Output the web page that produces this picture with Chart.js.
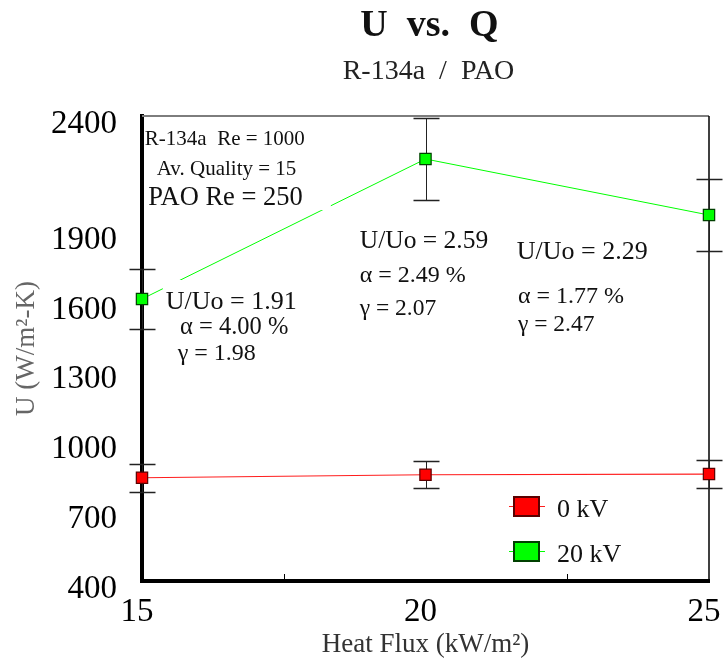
<!DOCTYPE html>
<html>
<head>
<meta charset="utf-8">
<script src="https://cdn.jsdelivr.net/npm/chart.js@4.4.1/dist/chart.umd.min.js"></script>
<style>
  html, body { margin: 0; padding: 0; background: #fff; }
</style>
</head>
<body>
<canvas id="uq" width="724" height="661"></canvas>
<script>
// heat flux (kW/m²) and overall U (W/m²-K) with error half-widths
const heatFlux = [15, 20, 25];
const u0kV = [844, 857, 860];
const u0kVErr = [60, 59, 60];
const u20kV = [1613, 2215, 1974];
const u20kVErr = [129, 176, 156];
const xTicks = [15, 20, 25];
const yTicks = [400, 700, 1000, 1300, 1600, 1900, 2400];
const seriesNames = ['0 kV', '20 kV'];

const serif = "'Liberation Serif', 'Times New Roman', serif";

// free text inside the plot, anchored in data units (left edge, vertical middle)
const notes = [
  { text: 'R-134a  Re = 1000', x: 15.05, y: 2297, size: 21 },
  { text: 'Av. Quality = 15', x: 15.26, y: 2168, size: 21 },
  { text: 'PAO Re = 250', x: 15.11, y: 2047, size: 26.5, box: [3, 28, 12, 12] },
  { text: 'U/Uo = 1.91', x: 15.42, y: 1600, size: 26, box: [3, 4, 22, 22] },
  { text: 'α = 4.00 %', x: 15.67, y: 1488, size: 24.5 },
  { text: 'γ = 1.98', x: 15.63, y: 1376, size: 24 },
  { text: 'U/Uo = 2.59', x: 18.84, y: 1862, size: 25.5 },
  { text: 'α = 2.49 %', x: 18.84, y: 1712, size: 24 },
  { text: 'γ = 2.07', x: 18.84, y: 1570, size: 23.5 },
  { text: 'U/Uo = 2.29', x: 21.61, y: 1815, size: 26 },
  { text: 'α = 1.77 %', x: 21.63, y: 1622, size: 24 },
  { text: 'γ = 2.47', x: 21.63, y: 1501, size: 23.5 }
];

const toPoints = (ys) => heatFlux.map((x, i) => ({ x: x, y: ys[i] }));

const extras = {
  id: 'extras',
  beforeDatasetsDraw(chart) {
    const { ctx, chartArea: a, scales: { x, y } } = chart;
    ctx.save();
    // top and right edges of the frame
    ctx.strokeStyle = '#7d7d7d';
    ctx.lineWidth = 2;
    ctx.beginPath();
    ctx.moveTo(a.left, a.top);
    ctx.lineTo(a.right, a.top);
    ctx.stroke();
    ctx.strokeStyle = '#000';
    ctx.lineWidth = 1.5;
    ctx.beginPath();
    ctx.moveTo(a.right, a.top);
    ctx.lineTo(a.right, a.bottom);
    ctx.stroke();
    // minor ticks on the x axis
    ctx.lineWidth = 1;
    [17.5, 22.5].forEach(v => {
      const px = Math.round(x.getPixelForValue(v)) + 0.5;
      ctx.beginPath();
      ctx.moveTo(px, a.bottom);
      ctx.lineTo(px, a.bottom - 7);
      ctx.stroke();
    });
    // error bars
    ctx.strokeStyle = '#222';
    chart.data.datasets.forEach(ds => {
      ds.data.forEach((p, i) => {
        const px = Math.round(x.getPixelForValue(p.x)) + 0.5;
        const hi = Math.round(y.getPixelForValue(p.y + ds.err[i])) + 0.5;
        const lo = Math.round(y.getPixelForValue(p.y - ds.err[i])) + 0.5;
        ctx.lineWidth = 1;
        ctx.beginPath();
        ctx.moveTo(px, hi);
        ctx.lineTo(px, lo);
        ctx.stroke();
        ctx.lineWidth = 1.5;
        ctx.beginPath();
        ctx.moveTo(px - 13, hi);
        ctx.lineTo(px + 13, hi);
        ctx.moveTo(px - 13, lo);
        ctx.lineTo(px + 13, lo);
        ctx.stroke();
      });
    });
    ctx.restore();
  },
  afterDatasetsDraw(chart) {
    const { ctx, chartArea: a, scales: { x, y } } = chart;
    ctx.save();
    ctx.textAlign = 'left';
    ctx.textBaseline = 'middle';
    notes.forEach(n => {
      const px = x.getPixelForValue(n.x);
      const py = y.getPixelForValue(n.y);
      ctx.font = n.size + 'px ' + serif;
      if (n.box) {
        const w = ctx.measureText(n.text).width;
        ctx.fillStyle = '#fff';
        ctx.fillRect(px - n.box[0], py - n.box[2], w + n.box[0] + n.box[1], n.box[2] + n.box[3]);
      }
      ctx.fillStyle = '#111';
      ctx.fillText(n.text, px, py);
    });

    // legend, lower right of the plot
    const lx = a.left + 367;
    chart.data.datasets.forEach((ds, i) => {
      const ly = a.top + 390 + i * 45;
      ctx.strokeStyle = ds.borderColor;
      ctx.lineWidth = 1;
      ctx.beginPath();
      ctx.moveTo(lx, ly + 0.5);
      ctx.lineTo(lx + 36, ly + 0.5);
      ctx.stroke();
      ctx.fillStyle = ds.pointBackgroundColor;
      ctx.fillRect(lx + 5, ly - 9, 25, 19);
      ctx.strokeStyle = ds.pointBorderColor;
      ctx.lineWidth = 2;
      ctx.strokeRect(lx + 5, ly - 9, 25, 19);
      ctx.fillStyle = '#111';
      ctx.font = '26px ' + serif;
      ctx.fillText(ds.label, lx + 48, ly + 4);
    });

    // titles above the plot
    const cx = (a.left + a.right) / 2 + 4;
    ctx.textAlign = 'center';
    ctx.fillStyle = '#111';
    ctx.font = 'bold 38px ' + serif;
    ctx.fillText('U  vs.  Q', cx, 26);
    ctx.fillStyle = '#222';
    ctx.font = '28px ' + serif;
    ctx.fillText('R-134a  /  PAO', cx - 1, 72);
    ctx.restore();
  }
};

new Chart(document.getElementById('uq'), {
  type: 'line',
  data: {
    datasets: [{
      label: seriesNames[0],
      data: toPoints(u0kV),
      err: u0kVErr,
      borderColor: 'rgb(255,30,30)',
      borderWidth: 1.2,
      pointStyle: 'rect',
      pointRadius: 8,
      pointBackgroundColor: '#ff0000',
      pointBorderColor: '#5a0000',
      pointBorderWidth: 1.2,
      tension: 0
    }, {
      label: seriesNames[1],
      data: toPoints(u20kV),
      err: u20kVErr,
      borderColor: '#00ff00',
      borderWidth: 1,
      pointStyle: 'rect',
      pointRadius: 8,
      pointBackgroundColor: '#00ff00',
      pointBorderColor: '#004000',
      pointBorderWidth: 1.2,
      tension: 0
    }]
  },
  options: {
    responsive: false,
    animation: false,
    devicePixelRatio: 1,
    clip: false,
    layout: { padding: { top: 116, right: 15, left: 0, bottom: 0 } },
    plugins: {
      legend: { display: false },
      title: { display: false },
      tooltip: { enabled: false }
    },
    scales: {
      x: {
        type: 'linear',
        min: 15,
        max: 25,
        afterBuildTicks: s => { s.ticks = xTicks.map(v => ({ value: v })); },
        afterFit: s => { s.height = 80; s.paddingLeft = 0; s.paddingRight = 0; },
        grid: { color: 'transparent', drawTicks: false },
        border: { color: '#000', width: 4 },
        ticks: {
          font: { family: serif, size: 33 },
          color: '#000',
          padding: 12,
          labelOffset: -5,
          maxRotation: 0,
          callback: v => String(v)
        },
        title: {
          display: true,
          text: 'Heat Flux (kW/m²)',
          font: { family: serif, size: 27 },
          color: '#333',
          padding: { top: 0, bottom: 0 }
        }
      },
      y: {
        min: 400,
        max: 2400,
        afterBuildTicks: s => { s.ticks = yTicks.map(v => ({ value: v })); },
        afterFit: s => { s.width = 142; s.paddingTop = 0; s.paddingBottom = 0; },
        grid: { color: 'transparent', drawTicks: false },
        border: { color: '#000', width: 4 },
        ticks: {
          font: { family: serif, size: 33 },
          color: '#000',
          padding: 25,
          labelOffset: 8,
          callback: v => String(v)
        },
        title: {
          display: true,
          text: 'U (W/m²-K)',
          font: { family: serif, size: 27 },
          color: '#666',
          padding: { top: 11, bottom: 0 }
        }
      }
    }
  },
  plugins: [extras]
});
</script>
</body>
</html>
